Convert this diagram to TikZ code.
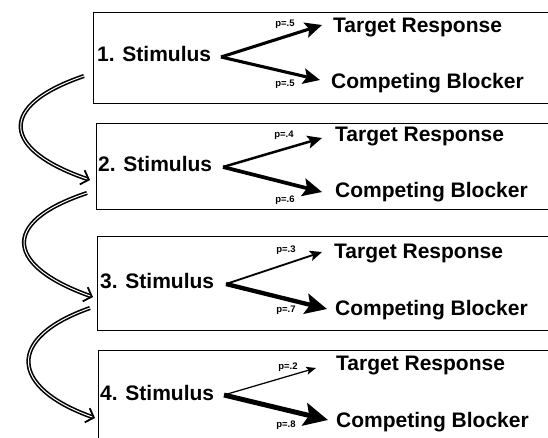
\documentclass[tikz,border=0pt]{standalone}
\usepackage{fontspec}
\setmainfont{Liberation Sans}
\usetikzlibrary{arrows.meta}
\begin{document}
\begin{tikzpicture}[x=1pt,y=-1pt,
  boxnode/.style={draw, line width=1.2pt, anchor=north west, minimum width=480pt, inner sep=0pt},
  stim/.style={anchor=base west, inner sep=0pt, font=\fontsize{21}{25}\selectfont\bfseries},
  resp/.style={anchor=base west, inner sep=0pt, font=\fontsize{21}{25}\selectfont\bfseries},
  plab/.style={inner sep=0pt, font=\fontsize{9.5}{10}\selectfont\bfseries},
  parr/.style={line width=#1*6.2pt, -{Stealth[length=5pt 3.8, width=3pt 4, inset=1.5pt 0.6]}},
  flow/.style={double=white, double distance=1pt, line width=1.6pt,
    -{Straight Barb[length=7pt, width=15pt, line width=1.8pt]}}
]
\useasboundingbox (0,0) rectangle (548,438);
\clip (0,0) rectangle (548,438);

% boxes (right side runs off the picture)
\node[boxnode, minimum height=91pt] (b1) at (93,12) {};
\node[boxnode, minimum height=86pt] (b2) at (96,123) {};
\node[boxnode, minimum height=94pt] (b3) at (97,236) {};
\node[boxnode, minimum height=120pt] (b4) at (98,350) {};

% stimuli
\node[stim] (s1) at (97,61.5) {1. Stimulus};
\node[stim] (s2) at (98,171.5) {2. Stimulus};
\node[stim] (s3) at (100,288) {3. Stimulus};
\node[stim] (s4) at (100,400) {4. Stimulus};

% responses
\node[resp] (t1) at (333,32.7) {Target Response};
\node[resp] (c1) at (331,88.7) {Competing Blocker};
\node[resp] (t2) at (335,141.7) {Target Response};
\node[resp] (c2) at (335,197.3) {Competing Blocker};
\node[resp] (t3) at (334,258.3) {Target Response};
\node[resp] (c3) at (335,315) {Competing Blocker};
\node[resp] (t4) at (336,370.7) {Target Response};
\node[resp] (c4) at (336,427.3) {Competing Blocker};

% branch points and arrow ends
\coordinate (a1) at (221,57);  \coordinate (u1) at (322,25);  \coordinate (l1) at (320,80);
\coordinate (a2) at (223,167); \coordinate (u2) at (322,138); \coordinate (l2) at (322,192);
\coordinate (a3) at (226,284); \coordinate (u3) at (322,252); \coordinate (l3) at (327,309);
\coordinate (a4) at (224,395); \coordinate (u4) at (316,368); \coordinate (l4) at (328,420);

\draw[parr=0.5] (a1) -- (u1);
\draw[parr=0.5] (a1) -- (l1);
\draw[parr=0.4] (a2) -- (u2);
\draw[parr=0.6] (a2) -- (l2);
\draw[parr=0.3] (a3) -- (u3);
\draw[parr=0.7] (a3) -- (l3);
\draw[parr=0.2] (a4) -- (u4);
\draw[parr=0.8] (a4) -- (l4);

% probability labels
\node[plab] (p1u) at (285,24) {p=.5};
\node[plab] (p1l) at (285,84) {p=.5};
\node[plab] (p2u) at (284,135) {p=.4};
\node[plab] (p2l) at (285,200) {p=.6};
\node[plab] (p3u) at (286,250) {p=.3};
\node[plab] (p3l) at (286,310) {p=.7};
\node[plab] (p4u) at (288,367) {p=.2};
\node[plab] (p4l) at (286,425) {p=.8};

% flow arrows between boxes
\coordinate (o1) at (84,76);  \coordinate (i2) at (90,180);
\coordinate (o2) at (87,193); \coordinate (i3) at (93,297);
\coordinate (o3) at (90,308); \coordinate (i4) at (95,418);
\draw[flow] (o1) .. controls (-4,106) and (2,150) .. (i2);
\draw[flow] (o2) .. controls (-3,223) and (8,267) .. (i3);
\draw[flow] (o3) .. controls (5,338) and (10,388) .. (i4);
\end{tikzpicture}
\end{document}
